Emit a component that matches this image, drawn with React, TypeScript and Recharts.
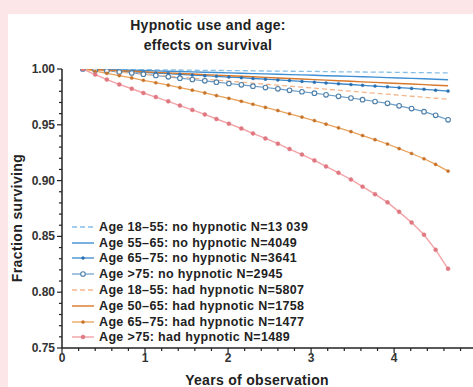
import React from 'react';
import { LineChart, Line, XAxis, YAxis, Legend } from 'recharts';

const years = [
  0.25, 0.4, 0.54, 0.69, 0.84, 0.98, 1.13, 1.28, 1.42, 1.57, 1.72, 1.86, 2.01, 2.16, 2.3, 2.45,
  2.6, 2.74, 2.89, 3.04, 3.18, 3.33, 3.48, 3.62, 3.77, 3.92, 4.06, 4.21, 4.36, 4.5, 4.65,
];

const young_no = [
  1.0, 0.9999, 0.9998, 0.9996, 0.9995, 0.9994, 0.9993, 0.9992, 0.9991, 0.9989, 0.9988, 0.9987,
  0.9986, 0.9985, 0.9984, 0.9982, 0.9981, 0.998, 0.9979, 0.9978, 0.9977, 0.9975, 0.9974, 0.9973,
  0.9972, 0.9971, 0.997, 0.9968, 0.9967, 0.9966, 0.9965,
];
const mid_no = [
  1.0, 0.9998, 0.9995, 0.9992, 0.9989, 0.9986, 0.9983, 0.998, 0.9977, 0.9974, 0.9971, 0.9968,
  0.9965, 0.9962, 0.9959, 0.9956, 0.9953, 0.995, 0.9947, 0.9944, 0.994, 0.9937, 0.9934, 0.993,
  0.9927, 0.9923, 0.992, 0.9916, 0.9912, 0.9908, 0.9904,
];
const older_no = [
  1.0, 0.9994, 0.9988, 0.9982, 0.9976, 0.997, 0.9964, 0.9958, 0.9952, 0.9946, 0.994, 0.9934,
  0.9928, 0.9922, 0.9915, 0.9909, 0.9902, 0.9896, 0.9889, 0.9882, 0.9875, 0.9868, 0.9861, 0.9854,
  0.9847, 0.984, 0.9833, 0.9826, 0.9818, 0.981, 0.9802,
];
const oldest_no = [
  1.0, 0.9991, 0.9982, 0.9973, 0.9964, 0.9954, 0.9942, 0.993, 0.9918, 0.9906, 0.9894, 0.9882,
  0.987, 0.9858, 0.9846, 0.9834, 0.9822, 0.9809, 0.9796, 0.9783, 0.9769, 0.9755, 0.974, 0.9725,
  0.9709, 0.9692, 0.967, 0.9645, 0.9618, 0.9585, 0.9545,
];
const young_had = [
  1.0, 0.999, 0.9981, 0.9972, 0.9963, 0.9954, 0.9945, 0.9936, 0.9927, 0.9918, 0.9909, 0.99,
  0.9891, 0.9882, 0.9873, 0.9864, 0.9855, 0.9846, 0.9837, 0.9828, 0.9819, 0.981, 0.9801, 0.9792,
  0.9783, 0.9774, 0.9765, 0.9756, 0.9747, 0.9738, 0.9729,
];
const mid_had = [
  1.0, 0.9995, 0.999, 0.9985, 0.998, 0.9975, 0.997, 0.9965, 0.996, 0.9955, 0.995, 0.9945, 0.994,
  0.9935, 0.993, 0.9925, 0.992, 0.9915, 0.991, 0.9905, 0.99, 0.9895, 0.989, 0.9885, 0.988, 0.9875,
  0.987, 0.9865, 0.986, 0.9855, 0.985,
];
const older_had = [
  1.0, 0.998, 0.9961, 0.9941, 0.992, 0.9899, 0.9877, 0.9855, 0.9833, 0.981, 0.9786, 0.9762,
  0.9737, 0.9711, 0.9684, 0.9656, 0.9628, 0.9599, 0.9569, 0.9538, 0.9506, 0.9473, 0.9439, 0.9404,
  0.9367, 0.9328, 0.9287, 0.9243, 0.9196, 0.9145, 0.9085,
];
const oldest_had = [
  1.0, 0.995, 0.9905, 0.9862, 0.9823, 0.9785, 0.9748, 0.971, 0.9672, 0.9633, 0.9593, 0.9552,
  0.951, 0.9467, 0.9423, 0.9378, 0.9331, 0.9283, 0.9233, 0.9181, 0.9127, 0.907, 0.901, 0.8946,
  0.8878, 0.8805, 0.872, 0.8625, 0.8515, 0.838, 0.821,
];

const yMajor = [0.75, 0.8, 0.85, 0.9, 0.95, 1.0];
const yTicks = [
  0.75, 0.76, 0.77, 0.78, 0.79, 0.8, 0.81, 0.82, 0.83, 0.84, 0.85, 0.86, 0.87, 0.88, 0.89, 0.9,
  0.91, 0.92, 0.93, 0.94, 0.95, 0.96, 0.97, 0.98, 0.99, 1.0,
];
const xMajor = [0, 1, 2, 3, 4];
const xTicks = [
  0, 0.2, 0.4, 0.6, 0.8, 1, 1.2, 1.4, 1.6, 1.8, 2, 2.2, 2.4, 2.6, 2.8, 3, 3.2, 3.4, 3.6, 3.8, 4,
  4.2, 4.4, 4.6, 4.8,
];

const data = years.map((t, i) => ({
  t,
  young_no: young_no[i],
  mid_no: mid_no[i],
  older_no: older_no[i],
  oldest_no: oldest_no[i],
  young_had: young_had[i],
  mid_had: mid_had[i],
  older_had: older_had[i],
  oldest_had: oldest_had[i],
}));

type S = {
  key: string;
  name: string;
  color: string;
  width: number;
  dash?: string;
  dot?: { r: number; fill: string; stroke: string; strokeWidth: number };
};

const series: S[] = [
  { key: 'young_no', name: 'Age 18–55: no hypnotic N=13 039', color: '#86bfe6', width: 1.3, dash: '5 3' },
  { key: 'mid_no', name: 'Age 55–65: no hypnotic N=4049', color: '#3f8fd2', width: 1.4 },
  {
    key: 'older_no',
    name: 'Age 65–75: no hypnotic N=3641',
    color: '#3b88cc',
    width: 1.3,
    dot: { r: 1.5, fill: '#2a6fb0', stroke: '#2a6fb0', strokeWidth: 0.4 },
  },
  {
    key: 'oldest_no',
    name: 'Age >75: no hypnotic N=2945',
    color: '#6a9cc6',
    width: 1.2,
    dot: { r: 2.3, fill: '#ffffff', stroke: '#4d7fa9', strokeWidth: 1.1 },
  },
  { key: 'young_had', name: 'Age 18–55: had hypnotic N=5807', color: '#f3b68c', width: 1.3, dash: '5 3' },
  { key: 'mid_had', name: 'Age 50–65: had hypnotic N=1758', color: '#d8782a', width: 1.4 },
  {
    key: 'older_had',
    name: 'Age 65–75: had hypnotic N=1477',
    color: '#eaa25a',
    width: 1.3,
    dot: { r: 1.6, fill: '#c8732a', stroke: '#c8732a', strokeWidth: 0.4 },
  },
  {
    key: 'oldest_had',
    name: 'Age >75: had hypnotic N=1489',
    color: '#f4a2a6',
    width: 1.4,
    dot: { r: 2.0, fill: '#e07882', stroke: '#e07882', strokeWidth: 0.5 },
  },
];

const FONT = '"Liberation Sans", Arial, sans-serif';
const isMajor = (v: number, list: number[]) => list.some((m) => Math.abs(m - v) < 1e-6);

const XTick = (props: any) => {
  const { x, y, payload } = props;
  const major = isMajor(payload.value, xMajor);
  return (
    <g>
      <line x1={x} x2={x} y1={y} y2={y + (major ? 5 : 3)} stroke="#222" strokeWidth={1.2} />
      {major && (
        <text x={x} y={y + 14} textAnchor="middle" fontSize={12} fontWeight="bold" fill="#333" fontFamily={FONT}>
          {payload.value}
        </text>
      )}
    </g>
  );
};

const YTick = (props: any) => {
  const { x, y, payload } = props;
  const major = isMajor(payload.value, yMajor);
  return (
    <g>
      <line x1={x - (major ? 5 : 3)} x2={x} y1={y} y2={y} stroke="#222" strokeWidth={1.2} />
      {major && (
        <text x={x - 7} y={y + 4} textAnchor="end" fontSize={12} fontWeight="bold" fill="#333" fontFamily={FONT}>
          {payload.value.toFixed(2)}
        </text>
      )}
    </g>
  );
};

const LegendBox = () => (
  <div
    style={{
      fontFamily: FONT,
      fontWeight: 'bold',
      fontSize: 12.5,
      letterSpacing: 0.35,
      color: '#222',
      textAlign: 'left',
    }}
  >
    {series.map((s) => (
      <div key={s.key} style={{ display: 'flex', alignItems: 'center', height: 15.8, whiteSpace: 'nowrap' }}>
        <svg width={24} height={10} style={{ marginRight: 3 }}>
          <line x1={0} x2={22} y1={5} y2={5} stroke={s.color} strokeWidth={s.width} strokeDasharray={s.dash} />
          {s.dot && <circle cx={11} cy={5} r={s.dot.r} fill={s.dot.fill} stroke={s.dot.stroke} strokeWidth={s.dot.strokeWidth} />}
        </svg>
        <span>{s.name}</span>
      </div>
    ))}
  </div>
);

export default function App() {
  return (
    <div style={{ position: 'absolute', left: 0, top: 0, width: 473, height: 387, background: '#fde6e8', overflow: 'hidden' }}>
      <div style={{ position: 'absolute', left: 8, top: 14, width: 465, height: 373, background: '#ffffff' }}>
        <div
          style={{
            position: 'absolute',
            left: 0,
            width: 400,
            top: 1,
            textAlign: 'center',
            fontFamily: FONT,
            fontWeight: 'bold',
            fontSize: 14,
            letterSpacing: 0.3,
            lineHeight: '20px',
            color: '#222',
          }}
        >
          Hypnotic use and age:
          <br />
          effects on survival
        </div>
        <LineChart width={465} height={373} data={data} margin={{ top: 55, right: 0, bottom: 0, left: 0 }}>
          <XAxis
            dataKey="t"
            type="number"
            domain={[0, 4.95]}
            ticks={xTicks}
            tick={<XTick />}
            tickLine={false}
            tickSize={0}
            tickMargin={0}
            height={39}
            axisLine={{ stroke: '#222', strokeWidth: 1.5 }}
            interval={0}
          />
          <YAxis
            type="number"
            domain={[0.75, 1.0]}
            ticks={yTicks}
            tick={<YTick />}
            tickLine={false}
            tickSize={0}
            tickMargin={0}
            width={54}
            axisLine={{ stroke: '#222', strokeWidth: 1.5 }}
            interval={0}
            allowDataOverflow
          />
          <Legend
            layout="horizontal"
            verticalAlign="middle"
            align="center"
            content={<LegendBox />}
            wrapperStyle={{ position: 'absolute', left: 64, top: 205, width: 280 }}
          />
          {series.map((s) => (
            <Line
              key={s.key}
              dataKey={s.key}
              name={s.name}
              type="linear"
              stroke={s.color}
              strokeWidth={s.width}
              strokeDasharray={s.dash}
              dot={s.dot ? s.dot : false}
              activeDot={false}
              isAnimationActive={false}
            />
          ))}
        </LineChart>
        <div style={{ position: 'absolute', left: 9, top: 204, width: 0, height: 0 }}>
          <div
            style={{
              position: 'absolute',
              transform: 'translate(-50%, -50%) rotate(-90deg)',
              whiteSpace: 'nowrap',
              fontFamily: FONT,
              fontWeight: 'bold',
              fontSize: 14,
              letterSpacing: 0.4,
              color: '#222',
            }}
          >
            Fraction surviving
          </div>
        </div>
        <div
          style={{
            position: 'absolute',
            left: 149,
            width: 200,
            top: 358,
            textAlign: 'center',
            fontFamily: FONT,
            fontWeight: 'bold',
            fontSize: 14,
            letterSpacing: 0.3,
            color: '#222',
          }}
        >
          Years of observation
        </div>
      </div>
    </div>
  );
}
